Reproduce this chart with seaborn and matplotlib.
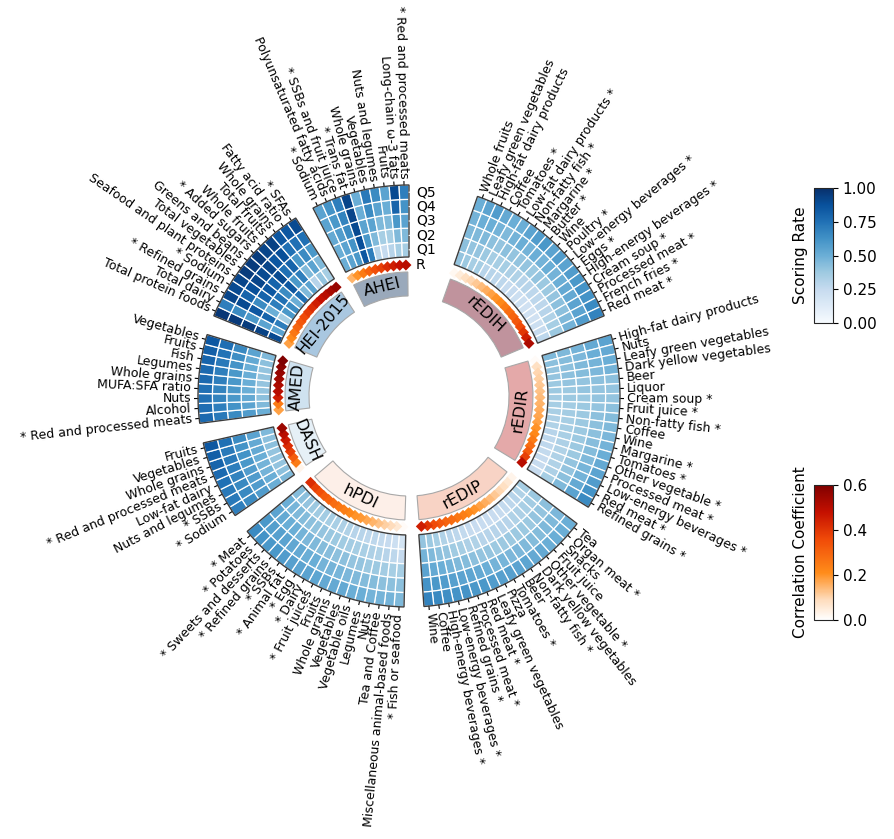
import numpy as np
import matplotlib
matplotlib.use("Agg")
import matplotlib.pyplot as plt
import seaborn as sns
from matplotlib.colors import LinearSegmentedColormap, Normalize
from matplotlib.cm import ScalarMappable

sns.set_style("white")
plt.rcParams["font.family"] = ["DejaVu Sans"]
plt.rcParams["text.color"] = "black"
plt.rcParams["ytick.color"] = "black"
plt.rcParams["axes.labelcolor"] = "black"

# ---------------- data (clockwise order inside each group) ----------------
groups = ["rEDIH", "rEDIR", "rEDIP", "hPDI", "DASH", "AMED", "HEI-2015", "AHEI"]
group_colors = ["#c0939d", "#e4a9a9", "#f8d3c5", "#fdefe8",
                "#e6f0f7", "#cfe2f0", "#a9c7e0", "#9aa9bb"]
label_side = ["right", "right", "right", "left", "left", "left", "left", "left"]

labels_rEDIH = ["Whole fruits", "Leafy green vegetables", "High-fat dairy products", "Coffee",
                "Tomatoes *", "Low-fat dairy products *", "Non-fatty fish *", "Margarine *",
                "Butter *", "Wine", "Poultry *", "Low-energy beverages *", "Eggs *",
                "High-energy beverages *", "Cream soup *", "Processed meat *",
                "French fries *", "Red meat *"]
scores_rEDIH = [[.40, .42, .45, .48, .50], [.38, .40, .45, .50, .55], [.35, .40, .45, .50, .58],
                [.35, .38, .42, .48, .52], [.30, .35, .40, .45, .50], [.30, .35, .42, .48, .50],
                [.28, .35, .40, .50, .55], [.28, .33, .40, .48, .58], [.25, .32, .40, .50, .60],
                [.25, .30, .38, .48, .55], [.22, .30, .40, .50, .58], [.22, .28, .38, .48, .55],
                [.20, .28, .38, .50, .58], [.20, .28, .40, .52, .60], [.20, .30, .42, .52, .62],
                [.22, .32, .42, .55, .62], [.25, .35, .45, .55, .65], [.28, .38, .48, .58, .68]]
r_rEDIH = [0.02, 0.05, 0.08, 0.10, 0.12, 0.14, 0.16, 0.18, 0.20, 0.22, 0.25, 0.28,
           0.30, 0.33, 0.36, 0.40, 0.45, 0.52]

labels_rEDIR = ["High-fat dairy products", "Nuts", "Leafy green vegetables",
                "Dark yellow vegetables", "Beer", "Liquor", "Cream soup *", "Fruit juice *",
                "Non-fatty fish *", "Coffee", "Wine", "Margarine *", "Tomatoes *",
                "Other vegetable *", "Processed meat *", "Low-energy beverages *",
                "Red meat *", "Refined grains *"]
scores_rEDIR = [[.45, .45, .48, .52, .55], [.42, .44, .46, .50, .52], [.40, .42, .45, .48, .50],
                [.40, .42, .44, .46, .48], [.38, .40, .40, .42, .42], [.38, .38, .40, .40, .40],
                [.36, .38, .38, .40, .40], [.35, .36, .38, .40, .42], [.34, .36, .38, .42, .44],
                [.33, .35, .38, .42, .45], [.32, .35, .38, .42, .46], [.30, .34, .38, .43, .48],
                [.28, .33, .38, .44, .50], [.27, .32, .38, .45, .52], [.26, .32, .40, .47, .55],
                [.25, .32, .40, .48, .58], [.25, .33, .42, .52, .62], [.25, .35, .45, .55, .65]]
r_rEDIR = [0.01, 0.08, 0.10, 0.11, 0.12, 0.13, 0.14, 0.15, 0.16, 0.17, 0.18, 0.20,
           0.22, 0.25, 0.28, 0.32, 0.38, 0.50]

labels_rEDIP = ["Tea", "Organ meat *", "Snacks", "Fruit juice", "Other vegetable *",
                "Dark yellow vegetables", "Non-fatty fish *", "Beer", "Tomatoes *", "Pizza",
                "Leafy green vegetables", "Red meat *", "Processed meat *", "Refined grains *",
                "Low-energy beverages *", "High-energy beverages *", "Coffee", "Wine"]
scores_rEDIP = [[.35, .38, .42, .46, .50], [.32, .36, .40, .45, .50], [.30, .34, .40, .45, .50],
                [.28, .33, .38, .44, .50], [.26, .32, .38, .44, .52], [.25, .30, .38, .45, .52],
                [.24, .30, .38, .46, .54], [.24, .30, .38, .46, .55], [.24, .30, .38, .47, .56],
                [.24, .30, .40, .48, .56], [.25, .32, .40, .50, .58], [.26, .33, .42, .52, .60],
                [.28, .35, .44, .54, .60], [.30, .37, .45, .55, .62], [.32, .40, .48, .56, .62],
                [.35, .42, .50, .58, .64], [.38, .45, .52, .60, .66], [.40, .48, .55, .62, .68]]
r_rEDIP = [0.03, 0.06, 0.08, 0.10, 0.12, 0.14, 0.16, 0.18, 0.20, 0.22, 0.24, 0.26,
           0.28, 0.30, 0.33, 0.36, 0.40, 0.45]

labels_hPDI = ["Fish or seafood *", "Miscellaneous animal-based foods", "Tea and Coffee", "Nuts",
               "Legumes", "Vegetable oils", "Vegetables", "Whole grains", "Fruits",
               "Fruit juices *", "Dairy *", "Egg *", "Animal fat *", "SSBs *",
               "Refined grains *", "Sweets and desserts *", "Potatoes *", "Meat *"]
scores_hPDI = [[.18, .25, .35, .42, .45], [.22, .28, .35, .42, .48], [.25, .30, .36, .42, .48],
               [.26, .32, .38, .44, .48], [.28, .33, .38, .44, .50], [.28, .34, .40, .45, .50],
               [.30, .35, .40, .46, .52], [.30, .36, .42, .47, .52], [.32, .37, .42, .48, .52],
               [.33, .38, .43, .48, .54], [.34, .39, .44, .50, .55], [.35, .40, .45, .50, .55],
               [.36, .41, .46, .52, .56], [.37, .42, .48, .53, .58], [.38, .44, .50, .55, .60],
               [.40, .45, .50, .56, .60], [.42, .47, .52, .57, .62], [.44, .50, .55, .60, .65]]
r_hPDI = [0.01, 0.06, 0.09, 0.11, 0.13, 0.15, 0.17, 0.19, 0.20, 0.22, 0.24, 0.26,
          0.28, 0.30, 0.32, 0.35, 0.38, 0.42]

labels_DASH = ["Sodium *", "SSBs *", "Nuts and legumes", "Low-fat dairy",
               "Red and processed meats *", "Whole grains", "Vegetables", "Fruits"]
scores_DASH = [[.45, .50, .58, .65, .70], [.42, .50, .58, .66, .72], [.40, .48, .58, .66, .72],
               [.40, .48, .58, .68, .75], [.40, .50, .60, .70, .78], [.42, .52, .62, .72, .80],
               [.42, .52, .62, .72, .82], [.45, .55, .65, .75, .85]]
r_DASH = [0.03, 0.25, 0.32, 0.38, 0.42, 0.46, 0.50, 0.55]

labels_AMED = ["Red and processed meats *", "Alcohol", "Nuts", "MUFA:SFA ratio", "Whole grains",
               "Legumes", "Fish", "Fruits", "Vegetables"]
scores_AMED = [[.50, .58, .65, .72, .78], [.45, .55, .62, .70, .76], [.42, .52, .60, .68, .75],
               [.40, .50, .60, .68, .75], [.40, .50, .60, .70, .78], [.40, .50, .60, .70, .78],
               [.40, .50, .62, .72, .80], [.42, .52, .64, .74, .82], [.45, .55, .66, .76, .85]]
r_AMED = [0.18, 0.25, 0.45, 0.50, 0.52, 0.54, 0.56, 0.58, 0.60]

labels_HEI = ["Total protein foods", "Total dairy", "Refined grains *", "Sodium *",
              "Seafood and plant proteins", "Total vegetables", "Greens and beans",
              "Added sugars *", "Whole fruits", "Total fruits", "Whole grains",
              "Fatty acid ratio", "SFAs *"]
scores_HEI = [[.90, .93, .95, .96, .97], [.55, .55, .60, .65, .70], [.70, .80, .85, .90, .92],
              [.35, .50, .65, .80, .90], [.60, .70, .80, .88, .92], [.65, .75, .85, .92, .95],
              [.50, .65, .80, .90, .95], [.75, .85, .90, .92, .95], [.45, .60, .75, .85, .92],
              [.55, .70, .80, .88, .93], [.30, .45, .60, .75, .85], [.40, .55, .65, .75, .85],
              [.35, .45, .60, .75, .90]]
r_HEI = [0.18, 0.22, 0.26, 0.30, 0.33, 0.36, 0.39, 0.42, 0.45, 0.48, 0.50, 0.53, 0.56]

labels_AHEI = ["Sodium *", "Polyunsaturated fatty acids", "SSBs and fruit juice *",
               "Trans fat *", "Whole grains", "Vegetables", "Nuts and legumes", "Fruits",
               "Long-chain ω-3 fats", "Red and processed meats *"]
scores_AHEI = [[.50, .50, .52, .55, .55], [.55, .55, .58, .60, .62], [.60, .62, .65, .68, .70],
               [.85, .88, .90, .92, .92], [.70, .60, .55, .50, .50], [.30, .45, .55, .65, .72],
               [.25, .35, .45, .55, .65], [.30, .35, .45, .50, .55], [.35, .45, .60, .80, .90],
               [.35, .45, .55, .62, .70]]
r_AHEI = [0.15, 0.20, 0.25, 0.30, 0.35, 0.38, 0.42, 0.45, 0.48, 0.50]

quintiles = ["Q1", "Q2", "Q3", "Q4", "Q5"]

all_labels = [labels_rEDIH, labels_rEDIR, labels_rEDIP, labels_hPDI,
              labels_DASH, labels_AMED, labels_HEI, labels_AHEI]
all_scores = [scores_rEDIH, scores_rEDIR, scores_rEDIP, scores_hPDI,
              scores_DASH, scores_AMED, scores_HEI, scores_AHEI]
all_r = [r_rEDIH, r_rEDIR, r_rEDIP, r_hPDI, r_DASH, r_AMED, r_HEI, r_AHEI]

# ---------------- styling / geometry ----------------
W, H = 894, 839
CX, CY = 409, 396          # centre of the circle in pixels
RAX = 215                  # polar axes radius in pixels (1 data unit = 1 px)
R_IN, RING = 139, 14.4
R_OUT = R_IN + 5 * RING
R_DIAM = 131
BAND_IN, BAND_H = 100, 24
GAP, TOP_GAP = 2, 7
n_total = sum(len(l) for l in all_labels)
unit = 2 * np.pi / (n_total + GAP * (len(groups) - 1) + TOP_GAP)

blues = sns.color_palette("Blues", as_cmap=True)
corr_cmap = LinearSegmentedColormap.from_list(
    "corr", [(0.0, "#ffffff"), (0.15, "#fedcbc"), (0.35, "#ff8c1a"),
             (0.6, "#f04a08"), (0.8, "#c41000"), (1.0, "#800000")])
score_norm = Normalize(0, 1)
corr_norm = Normalize(0, 0.6)

fig = plt.figure(figsize=(W / 100, H / 100), dpi=100)
ax = fig.add_axes([(CX - RAX) / W, (H - CY - RAX) / H, 2 * RAX / W, 2 * RAX / H],
                  projection="polar")

FS = 9
start = np.pi / 2 - TOP_GAP * unit
diam_theta, diam_r, diam_val = [], [], []
for gi, g in enumerate(groups):
    labs, scs, rv = all_labels[gi], np.array(all_scores[gi]), all_r[gi]
    n = len(labs)
    thetas = start - (np.arange(n) + 0.5) * unit
    # heatmap rings
    for q in range(5):
        ax.bar(thetas, RING, width=unit, bottom=R_IN + q * RING,
               color=blues(score_norm(scs[:, q])), edgecolor="white", linewidth=0.9)
    gc = start - n * unit / 2
    ax.bar([gc], [5 * RING], width=n * unit, bottom=R_IN, fill=False,
           edgecolor="#3c3c3c", linewidth=1.0, zorder=3)
    # group band
    ax.bar([gc], [BAND_H], width=n * unit - 0.4 * unit, bottom=BAND_IN,
           color=group_colors[gi], edgecolor="#a8a8a8", linewidth=0.8)
    gdeg = (np.degrees(gc) + 180) % 360 - 180
    rot = gdeg - 90 if gdeg > 0 else gdeg + 90
    ax.text(gc, BAND_IN + BAND_H / 2, g, rotation=rot, rotation_mode="anchor",
            ha="center", va="center", fontsize=11.5)
    # item labels
    for t, lab in zip(thetas, labs):
        ax.plot([t, t], [R_OUT, R_OUT + 5], color="black", lw=0.8)
        deg = np.degrees(t)
        if label_side[gi] == "right":
            ax.text(t, R_OUT + 7, lab, rotation=deg, rotation_mode="anchor",
                    ha="left", va="center", fontsize=FS)
        else:
            txt = ("* " + lab[:-2]) if lab.endswith(" *") else lab
            ax.text(t, R_OUT + 7, txt, rotation=deg + 180, rotation_mode="anchor",
                    ha="right", va="center", fontsize=FS)
    diam_theta += list(thetas)
    diam_r += [R_DIAM] * n
    diam_val += list(rv)
    start -= (n + GAP) * unit

# correlation diamonds
sns.scatterplot(x=diam_theta, y=diam_r, hue=diam_val, palette=corr_cmap,
                hue_norm=(0, 0.6), marker="D", s=32, linewidth=0, legend=False,
                ax=ax, zorder=4)

# ring labels Q1..Q5 and R at the right edge of AHEI
edge = np.pi / 2
for q, ql in enumerate(quintiles):
    ax.annotate(ql, xy=(edge, R_IN + (q + 0.5) * RING), xytext=(5, 0),
                textcoords="offset points", ha="left", va="center", fontsize=10,
                arrowprops=dict(arrowstyle="-", lw=0.8, shrinkA=0, shrinkB=0))
ax.annotate("R", xy=(edge, R_DIAM), xytext=(5, 0), textcoords="offset points",
            ha="left", va="center", fontsize=10,
            arrowprops=dict(arrowstyle="-", lw=0.8, shrinkA=0, shrinkB=0))

ax.set_ylim(0, RAX)
ax.set_axis_off()

# colorbars
cax1 = fig.add_axes([814 / W, 1 - 323 / H, 19 / W, 135 / H])
cb1 = fig.colorbar(ScalarMappable(norm=score_norm, cmap=blues), cax=cax1,
                   ticks=[0, 0.25, 0.5, 0.75, 1.0], format="%.2f")
cb1.set_label("Scoring Rate", fontsize=11)
cb1.ax.yaxis.set_label_position("left")
cb1.ax.tick_params(labelsize=11, colors="black")

cax2 = fig.add_axes([814 / W, 1 - 620 / H, 19 / W, 135 / H])
cb2 = fig.colorbar(ScalarMappable(norm=corr_norm, cmap=corr_cmap), cax=cax2,
                   ticks=[0, 0.2, 0.4, 0.6], format="%.1f")
cb2.set_label("Correlation Coefficient", fontsize=11)
cb2.ax.yaxis.set_label_position("left")
cb2.ax.tick_params(labelsize=11, colors="black")

fig.savefig("out.png", dpi=100)
